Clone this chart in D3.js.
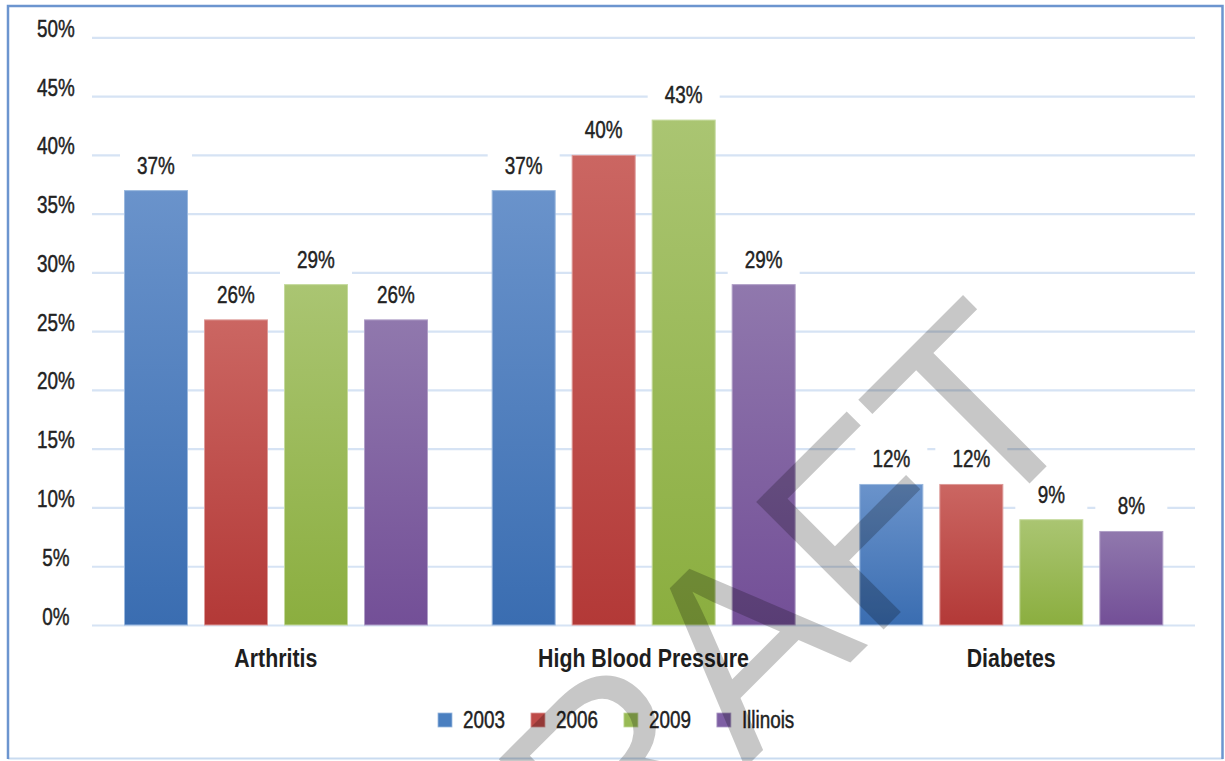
<!DOCTYPE html>
<html>
<head>
<meta charset="utf-8">
<script src="https://cdn.jsdelivr.net/npm/d3@7/dist/d3.min.js"></script>
<style>
  html, body { margin: 0; padding: 0; background: #fff; }
  svg { display: block; }
  text { font-family: "Liberation Sans", Arial, sans-serif; }
</style>
</head>
<body>
<svg id="chart" width="1225" height="761"></svg>
<script>
// ---- data ----
const categories = ["Arthritis", "High Blood Pressure", "Diabetes"];
const seriesNames = ["2003", "2006", "2009", "Illinois"];
const values2003 = [37, 37, 12];
const values2006 = [26, 40, 12];
const values2009 = [29, 43, 9];
const valuesIllinois = [26, 29, 8];
const yTickValues = [0, 5, 10, 15, 20, 25, 30, 35, 40, 45, 50];
const seriesValues = [values2003, values2006, values2009, valuesIllinois];

// ---- styles ----
const colorTop = ["#6a93cb", "#cb6662", "#aac572", "#9078ad"];
const colorBottom = ["#3a6db1", "#b33937", "#8bae3f", "#734f97"];
const colorEdge = ["#9ab8de", "#dd9a98", "#c4d99c", "#b09fc7"];
const colorLegend = ["#4a7fc0", "#be4a47", "#98ba55", "#7e5fa4"];
const NARROW = 0.82;
const TEXT_COLOR = "#222";

// emulate a condensed face by compressing glyphs horizontally
function condense(sel) {
  sel.each(function () {
    const w = this.getComputedTextLength();
    d3.select(this).attr("textLength", w * NARROW).attr("lengthAdjust", "spacingAndGlyphs");
  });
}
function medium(sel) {
  sel.attr("stroke", TEXT_COLOR).attr("stroke-width", 0.45);
}

const svg = d3.select("#chart");
const defs = svg.append("defs");
seriesNames.forEach((s, i) => {
  const g = defs.append("linearGradient").attr("id", "grad" + i)
    .attr("x1", 0).attr("y1", 0).attr("x2", 0).attr("y2", 1);
  g.append("stop").attr("offset", "0%").attr("stop-color", colorTop[i]);
  g.append("stop").attr("offset", "100%").attr("stop-color", colorBottom[i]);
});

// border
svg.append("line").attr("x1", 8).attr("x2", 1223).attr("y1", 758.5).attr("y2", 758.5)
  .attr("stroke", "#c9dbf0").attr("stroke-width", 2);
svg.append("path").attr("d", "M8,759 L8,6 L1222.5,6 L1222.5,759")
  .attr("fill", "none").attr("stroke", "#6c95cf").attr("stroke-width", 2.5);

// scales
const y = d3.scaleLinear().domain([0, 50]).range([625, 37.3]);
const x0 = d3.scaleBand().domain(categories).range([92, 1195]);
const x1 = d3.scaleBand().domain(seriesNames).range([32, 336]).paddingInner(0.2);

// gridlines
const grid = svg.append("g")
  .attr("transform", "translate(92,0)")
  .call(d3.axisLeft(y).tickValues(yTickValues).tickSize(-(1195 - 92)).tickFormat(""));
grid.select(".domain").remove();
grid.selectAll("line").attr("stroke", "#d6e3f4").attr("stroke-width", 2.2);

// y tick labels
const yLab = svg.append("g").attr("transform", "translate(56,0)")
  .call(d3.axisLeft(y).tickValues(yTickValues).tickSize(0).tickFormat(d => d + "%"));
yLab.select(".domain").remove();
yLab.selectAll("text")
  .attr("x", 0).attr("dy", null).attr("y", -1)
  .attr("text-anchor", "middle")
  .attr("fill", TEXT_COLOR).attr("font-size", 23)
  .style("font-family", "'Liberation Sans', Arial, sans-serif")
  .call(medium)
  .call(condense);

// bars
const flat = [];
categories.forEach((c, ci) => seriesNames.forEach((s, si) => flat.push({c, s, si, v: seriesValues[si][ci]})));

svg.append("g").selectAll("rect").data(flat).join("rect")
  .attr("x", d => x0(d.c) + x1(d.s) + 0.5)
  .attr("y", d => y(d.v) + 0.5)
  .attr("width", x1.bandwidth() - 1)
  .attr("height", d => y(0) - y(d.v) - 0.5)
  .attr("fill", d => `url(#grad${d.si})`)
  .attr("stroke", d => colorEdge[d.si]).attr("stroke-width", 1);

// data labels with white boxes
const lab = svg.append("g").selectAll("g").data(flat).join("g")
  .attr("transform", d => `translate(${x0(d.c) + x1(d.s) + x1.bandwidth() / 2},${y(d.v) - 25})`);
lab.append("rect").attr("x", -36).attr("y", -16).attr("width", 72).attr("height", 32).attr("fill", "#fff");
lab.append("text").attr("text-anchor", "middle").attr("y", 8.4)
  .attr("font-size", 23).attr("fill", TEXT_COLOR).text(d => d.v + "%")
  .call(medium)
  .call(condense);

// category labels
svg.append("g").selectAll("text").data(categories).join("text")
  .attr("x", d => x0(d) + x0.bandwidth() / 2).attr("y", 667)
  .attr("text-anchor", "middle").attr("font-size", 26).attr("font-weight", "bold")
  .attr("fill", "#1e1e1e").text(d => d)
  .call(condense);

// legend
const legend = svg.append("g");
let lx = 438;
seriesNames.forEach((s, i) => {
  legend.append("rect").attr("x", lx).attr("y", 713).attr("width", 14).attr("height", 14)
    .attr("fill", colorLegend[i]).attr("stroke", colorEdge[i]).attr("stroke-width", 0.8);
  const t = legend.append("text").attr("x", lx + 25).attr("y", 728)
    .attr("font-size", 23).attr("fill", TEXT_COLOR).text(s).call(medium);
  const w = t.node().getComputedTextLength() * NARROW;
  t.attr("textLength", w).attr("lengthAdjust", "spacingAndGlyphs");
  lx = lx + 25 + w + 26;
});

// DRAFT watermark
svg.append("text")
  .attr("transform", "translate(786,727) rotate(-45)")
  .attr("text-anchor", "middle")
  .style("font-family", "'Liberation Sans', Arial, sans-serif")
  .attr("font-size", 262)
  .attr("fill", "#000").attr("fill-opacity", 0.22)
  .text("DRAFT");
</script>
</body>
</html>
